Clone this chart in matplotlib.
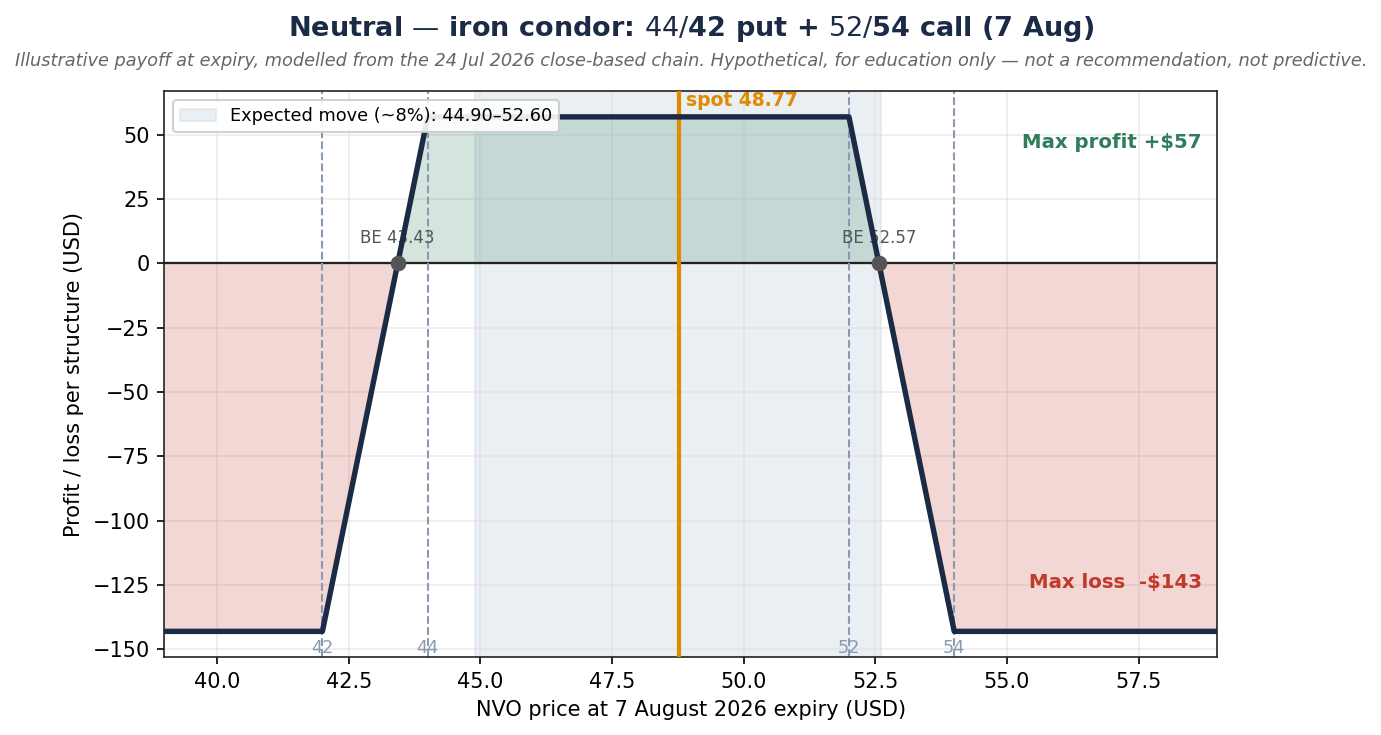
import matplotlib.pyplot as plt
import numpy as np

# payoff at expiry for the iron condor (per structure, USD)
price_pts = [39.0, 42.0, 44.0, 52.0, 54.0, 59.0]
payoff_pts = [-143, -143, 57, 57, -143, -143]
strikes = [42, 44, 52, 54]
breakevens = [43.43, 52.57]
spot = 48.77
em_low, em_high = 44.90, 52.60
max_profit = 57
max_loss = -143

navy = "#1b2a45"
green = "#2e7d5b"
red = "#c0392b"
orange = "#e08a00"
strike_col = "#8a9ab0"

fig, ax = plt.subplots(figsize=(9.213, 4.9), dpi=150)
fig.subplots_adjust(left=0.119, right=0.881, top=0.876, bottom=0.106)

x = np.linspace(39, 59, 2001)
y = np.interp(x, price_pts, payoff_pts)

ax.axvspan(em_low, em_high, color="#c9d6e3", alpha=0.38, zorder=0,
           label=f"Expected move (~8%): {em_low:.2f}–{em_high:.2f}")
ax.fill_between(x, y, 0, where=y >= 0, color="#2e7d5b", alpha=0.2, lw=0, zorder=1)
ax.fill_between(x, y, 0, where=y <= 0, color="#c0392b", alpha=0.2, lw=0, zorder=1)

ax.axhline(0, color="#222222", lw=1.1, zorder=2)
for k in strikes:
    ax.axvline(k, color=strike_col, ls="--", lw=1.0, zorder=2)
    ax.text(k, -153, str(k), color=strike_col, fontsize=8.5, ha="center", va="bottom")

ax.plot(price_pts, payoff_pts, color=navy, lw=2.6, zorder=4)

ax.axvline(spot, color=orange, lw=2.0, zorder=3)
ax.text(spot + 0.13, 67, f"spot {spot:.2f}", color=orange, fontsize=9,
        fontweight="bold", ha="left", va="top")

for be in breakevens:
    ax.plot(be, 0, "o", color="#555555", ms=6.5, zorder=5)
    ax.text(be, 6.5, f"BE {be:.2f}", color="#555555", fontsize=8, ha="center", va="bottom")

ax.text(58.7, max_profit - 10, f"Max profit +${max_profit}", color=green,
        fontsize=9.5, fontweight="bold", ha="right", va="center")
ax.text(58.7, max_loss + 19, f"Max loss  -${abs(max_loss)}", color=red,
        fontsize=9.5, fontweight="bold", ha="right", va="center")

ax.set_xlim(39, 59)
ax.set_ylim(-153, 67)
ax.grid(True, color="#dddddd", alpha=0.55, lw=0.8)
ax.set_axisbelow(True)
ax.set_xlabel("NVO price at 7 August 2026 expiry (USD)", fontsize=10)
ax.set_ylabel("Profit / loss per structure (USD)", fontsize=10)
ax.tick_params(labelsize=10)
for s in ax.spines.values():
    s.set_color("#222222")

ax.legend(loc="upper left", fontsize=8.5, framealpha=0.9)

fig.text(0.5, 0.961, "Neutral — iron condor: $44/$42 put + $52/$54 call (7 Aug)",
         ha="center", va="center", fontsize=13, fontweight="bold", color=navy)
fig.text(0.5, 0.917, "Illustrative payoff at expiry, modelled from the 24 Jul 2026 close-based chain. "
         "Hypothetical, for education only — not a recommendation, not predictive.",
         ha="center", va="center", fontsize=8.5, style="italic", color="#666666")

fig.savefig("out.png", dpi=150)
